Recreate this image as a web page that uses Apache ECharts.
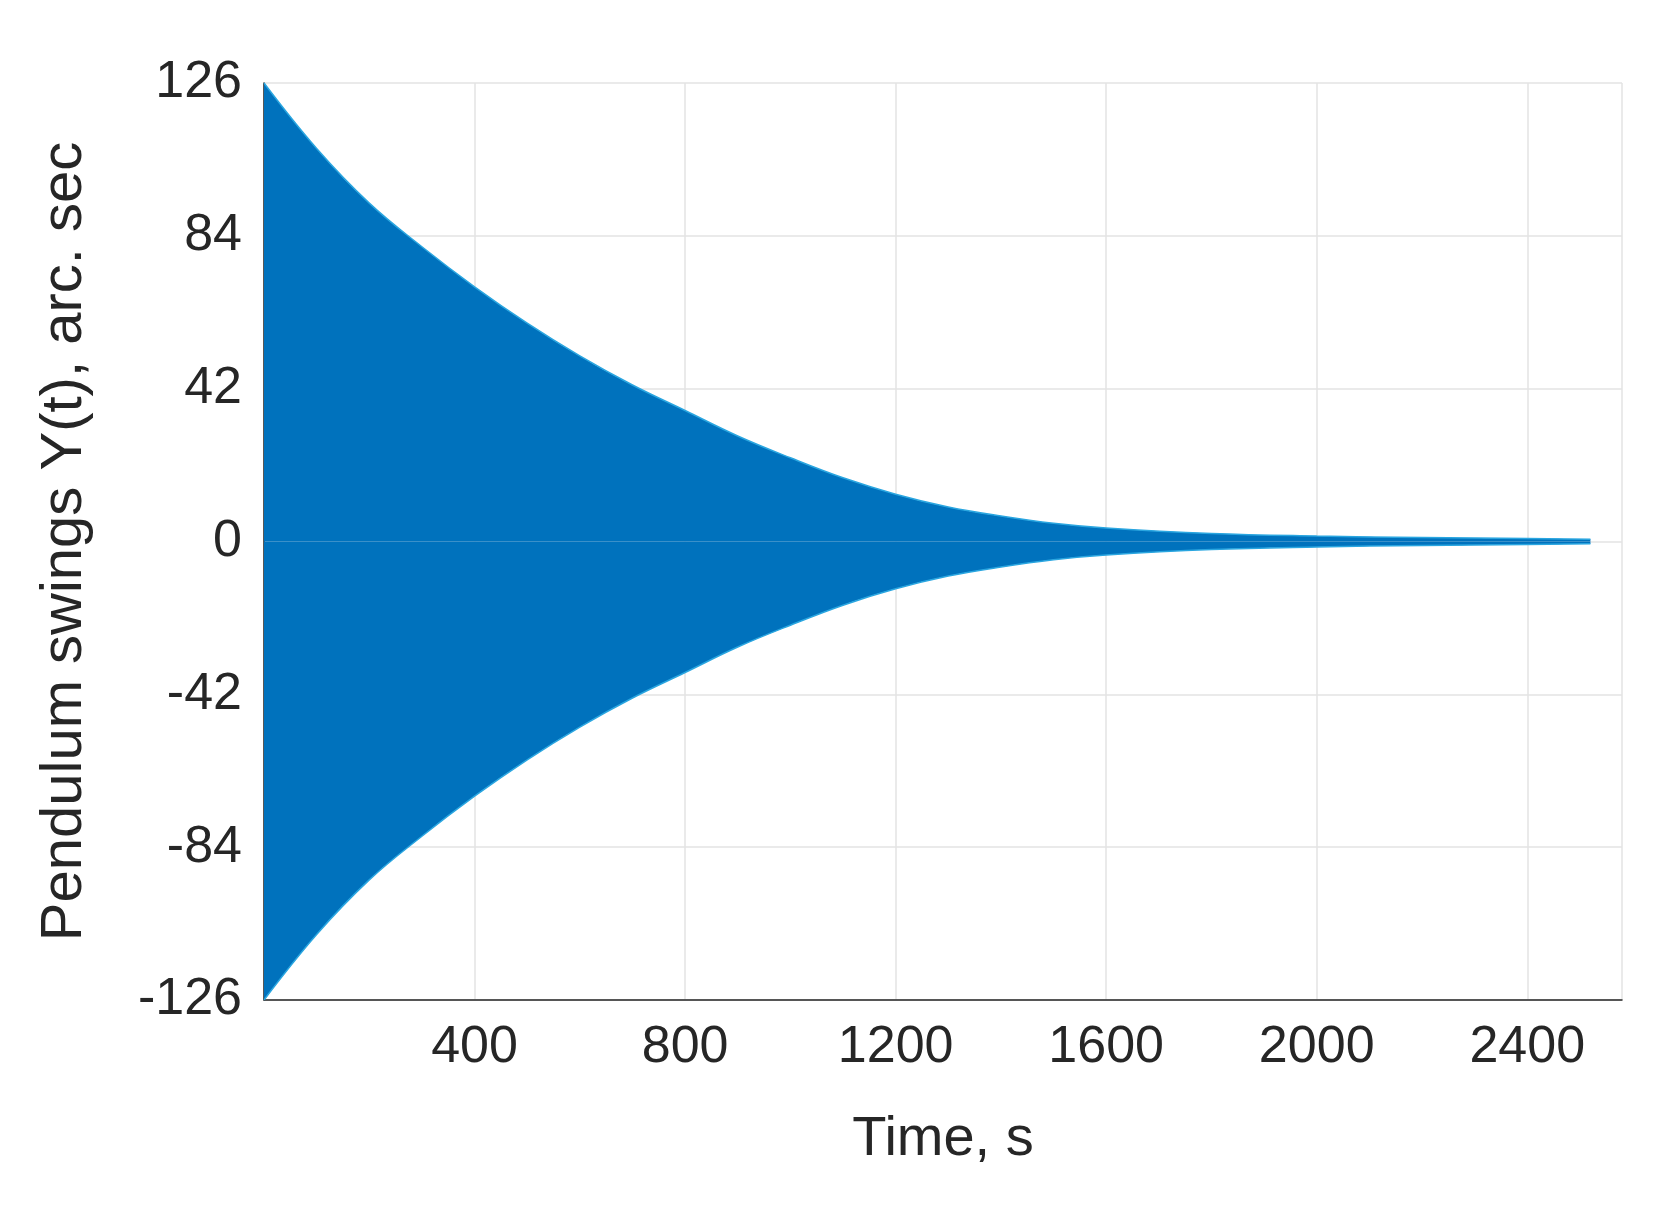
<!DOCTYPE html>
<html>
<head>
<meta charset="utf-8">
<script src="https://cdn.jsdelivr.net/npm/echarts@6/dist/echarts.min.js"></script>
<style>html,body{margin:0;background:#fff}#main{width:1672px;height:1209px}</style>
</head>
<body>
<div id="main"></div>
<script>
// envelope of the swings
const times = [0, 100, 200, 300, 400, 500, 600, 700, 800, 900, 1000, 1100, 1200, 1300, 1400, 1500, 1600, 1800, 2000, 2200, 2400, 2520]
const upper = [126, 108, 93, 81, 70, 60, 51, 43, 36, 29, 23, 17.5, 13, 9.5, 7, 5, 3.7, 2.2, 1.5, 1.1, 0.8, 0.6]
const lower = [-126, -108, -93, -81, -70, -60, -51, -43, -36, -29, -23, -17.5, -13, -9.5, -7, -5, -3.7, -2.2, -1.5, -1.1, -0.8, -0.6]
const yTicks = [-126, -84, -42, 0, 42, 84, 126]

const blue = '#0072bd'
const font = 'Liberation Sans'
const chart = echarts.init(document.getElementById('main'))

function band(vals) {
  return {
    type: 'line',
    data: times.map((t, i) => [t, vals[i]]),
    smooth: 0.4,
    showSymbol: false,
    lineStyle: { color: '#2aa6e0', width: 1.5 },
    areaStyle: { color: blue, opacity: 1, origin: 0 },
    z: 3,
  }
}

chart.setOption({
  animation: false,
  grid: { left: 264, right: 50, top: 83, bottom: 209 },
  xAxis: {
    type: 'value',
    min: 0,
    max: 2580,
    interval: 400,
    name: 'Time, s',
    nameLocation: 'middle',
    nameGap: 112,
    nameTextStyle: { fontSize: 56, color: '#262626', fontFamily: font },
    axisLine: { onZero: false, lineStyle: { color: '#262626', width: 1.5 } },
    axisTick: { show: false },
    axisLabel: {
      fontSize: 52, color: '#262626', fontFamily: font, margin: 22,
      formatter: v => (v === 0 ? '' : v),
    },
    splitLine: { show: true, lineStyle: { color: '#e3e3e3', width: 1.5 } },
  },
  yAxis: {
    type: 'value',
    min: -126,
    max: 126,
    interval: 42,
    name: 'Pendulum swings Y(t), arc. sec',
    nameLocation: 'middle',
    nameGap: 170,
    nameTextStyle: { fontSize: 58, color: '#262626', fontFamily: font },
    axisLine: { show: true, lineStyle: { color: '#262626', width: 1.5 } },
    axisTick: { show: false },
    axisLabel: {
      fontSize: 52, color: '#262626', fontFamily: font, margin: 22,
      formatter: v => (yTicks.includes(v) ? v : ''),
    },
    splitLine: { show: true, lineStyle: { color: '#e3e3e3', width: 1.5 } },
  },
  series: [band(upper), band(lower)],
})
</script>
</body>
</html>
